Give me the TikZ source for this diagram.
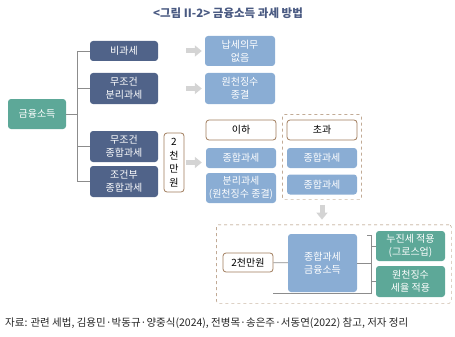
\documentclass[tikz,border=0pt]{standalone}
\usepackage{fontspec}
\setmainfont{Noto Sans CJK KR}
\usepackage{tikz}
\usetikzlibrary{arrows.meta, positioning, fit}
\usepackage{xcolor}
\definecolor{Navy}{HTML}{506389}
\definecolor{LBlue}{HTML}{8AADD4}
\definecolor{Teal}{HTML}{5DA898}
\definecolor{Brown}{HTML}{A07C5C}
\definecolor{TitleBlue}{HTML}{4A5A82}
\definecolor{LineGray}{HTML}{8C8C8C}
\definecolor{ArrGray}{HTML}{D4D4D4}

\begin{document}
\begin{tikzpicture}[x=1pt, y=-1pt, every node/.style={font=\fontsize{10}{13.5}\selectfont, align=center, inner sep=0pt},
  navybox/.style={fill=Navy, text=white, rounded corners=3pt, minimum width=68pt},
  lightbox/.style={fill=LBlue, text=white, rounded corners=3pt, minimum width=70pt},
  tealbox/.style={fill=Teal, text=white, rounded corners=3pt, minimum width=69pt},
  brownbox/.style={draw=Brown, thick, fill=white, rounded corners=3pt},
  dashbox/.style={draw=Brown, dashed, rounded corners=2pt},
  conn/.style={LineGray, thick},
  blockarr/.style={ArrGray, line width=5pt, -{Triangle[length=7pt, width=11pt]}}]
  \useasboundingbox (0,0) rectangle (455,337);
  % Title
  \node[font=\fontsize{11.5}{13}\selectfont\bfseries, text=TitleBlue] (title) at (228,13) {<그림 II-2> 금융소득 과세 방법};
  % Left column
  \node[tealbox, minimum width=58pt, minimum height=30pt] (root) at (37,114) {금융소득};
  \node[navybox, minimum height=20pt] (bigwa) at (124,51) {비과세};
  \node[navybox, minimum height=31pt] (muboon) at (124,88.5) {무조건\\분리과세};
  \node[navybox, minimum height=31pt] (mujong) at (124,146.5) {무조건\\종합과세};
  \node[navybox, minimum height=31pt] (jogeon) at (124,181.5) {조건부\\종합과세};
  % Results
  \node[lightbox, minimum height=30pt] (napse) at (240,51) {납세의무\\없음};
  \node[lightbox, minimum height=31pt] (wonchun) at (240,88.5) {원천징수\\종결};
  \node[brownbox, minimum width=20pt, minimum height=59pt, font=\fontsize{10}{13.5}\selectfont] (limit) at (174,162.5) {2\\천\\만\\원};
  \node[brownbox, minimum width=70pt, minimum height=20pt] (iha) at (241,130) {이하};
  \node[brownbox, minimum width=70pt, minimum height=20pt] (chogwa) at (322,130) {초과};
  \node[lightbox, minimum height=20pt] (jong1) at (241,158) {종합과세};
  \node[lightbox, minimum height=30pt] (boon1) at (241,188) {분리과세\\(원천징수 종결)};
  \node[lightbox, minimum height=20pt] (jong2) at (322,158) {종합과세};
  \node[lightbox, minimum height=20pt] (jong3) at (322,184.5) {종합과세};
  \node[dashbox, fit=(chogwa)(jong3), inner xsep=4pt, inner ysep=5pt] (over) {};
  % Bottom group
  \node[brownbox, minimum width=50pt, minimum height=19pt] (amt) at (248,262.5) {2천만원};
  \node[lightbox, minimum width=69pt, minimum height=58pt] (sum) at (322.5,263) {종합과세\\금융소득};
  \node[tealbox, minimum height=30pt] (prog) at (410.5,246) {누진세 적용\\(그로스업)};
  \node[tealbox, minimum height=31pt] (wrate) at (410.5,281.5) {원천징수\\세율 적용};
  \node[dashbox, fit=(amt)(sum)(prog)(wrate), inner xsep=6pt, inner ysep=6pt] (group) {};
  \coordinate (btop) at (371,235);
  \coordinate (bbot) at (371,293);
  % Tree lines
  \draw[conn] (root.east) -- ++(12,0);
  \draw[conn] (bigwa.west) -- ++(-12,0) |- (jogeon.west);
  \draw[conn] (muboon.west) -- ++(-12,0);
  \draw[conn] (mujong.west) -- ++(-12,0);
  % Block arrows
  \draw[blockarr, shorten <=28pt, shorten >=3pt] (bigwa.east) -- (napse.west);
  \draw[blockarr, shorten <=28pt, shorten >=3pt] (muboon.east) -- (wonchun.west);
  \draw[blockarr, shorten <=2pt, shorten >=4pt] (limit.east) -- (limit.east -| jong1.west);
  \draw[blockarr, shorten <=5pt, shorten >=5pt] (over.south) -- (over.south |- group.north);
  % Bracket
  \draw[conn] (amt) -- (sum);
  \draw[conn] (sum.east) -- (sum.east -| btop);
  \draw[conn] (btop) ++(-4,0) -- (btop) -- (bbot) -- (amt.east |- bbot);
  \draw[conn] (prog.west) -- (prog.west -| btop);
  \draw[conn] (wrate.west) -- (wrate.west -| btop);
  % Source
  \node[anchor=west, font=\fontsize{10.5}{12}\selectfont, text=black!85] (source) at (5,323) {자료: 관련 세법, 김용민·박동규·양중식(2024), 전병목·송은주·서동연(2022) 참고, 저자 정리};
\end{tikzpicture}
\end{document}
